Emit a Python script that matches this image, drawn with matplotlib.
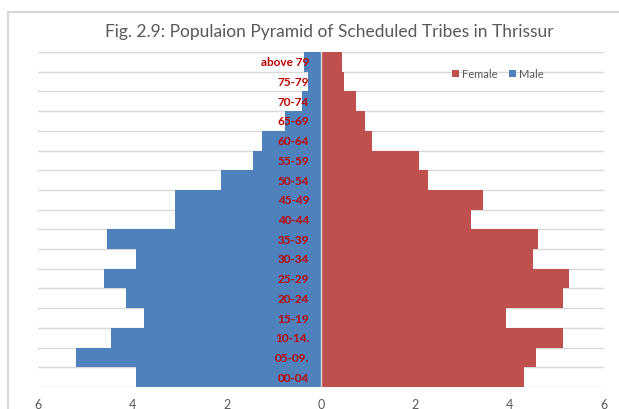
import matplotlib
matplotlib.use("Agg")
import matplotlib.pyplot as plt
from matplotlib.patches import Patch, Rectangle
from matplotlib.transforms import ScaledTranslation
import numpy as np

age_groups = ["00-04", "05-09.", "10-14.", "15-19", "20-24", "25-29", "30-34",
              "35-39", "40-44", "45-49", "50-54", "55-59", "60-64", "65-69",
              "70-74", "75-79", "above 79"]
male = [3.92, 5.20, 4.46, 3.76, 4.13, 4.60, 3.92, 4.54, 3.11, 3.11, 2.13,
        1.45, 1.26, 0.76, 0.41, 0.28, 0.37]
female = [4.30, 4.55, 5.12, 3.93, 5.12, 5.25, 4.50, 4.60, 3.17, 3.43, 2.26,
          2.07, 1.07, 0.93, 0.74, 0.49, 0.44]
xticks = [-6, -4, -2, 0, 2, 4, 6]
xtick_labels = ["6", "4", "2", "0", "2", "4", "6"]
title = "Fig. 2.9: Populaion Pyramid of Scheduled Tribes in Thrissur"

plt.rcParams['font.family'] = ['Lato', 'DejaVu Sans']

W, H = 619, 410
fig = plt.figure(figsize=(W / 100, H / 100), dpi=100)
fig.patch.set_facecolor("white")

# chart frame (cut off at right and bottom)
fig.patches.append(Rectangle((8.3 / W, -0.1), 1.2, 1 - 12.7 / H + 0.1,
                             transform=fig.transFigure, fill=False,
                             edgecolor="#D9D9D9", linewidth=1.6, zorder=0))

left, right = 38.3 / W, 604 / W
bottom, top = 1 - 388 / H, 1 - 53 / H
ax = fig.add_axes([left, bottom, right - left, top - bottom])

y = np.arange(len(age_groups))
blue = "#4F81BD"
red = "#C0504D"
ax.barh(y, [-m for m in male], height=1.0, color=blue, zorder=3, linewidth=0)
ax.barh(y, female, height=1.0, color=red, zorder=3, linewidth=0)

ax.set_xlim(-6, 6)
ax.set_ylim(-0.5, len(age_groups) - 0.5)

# horizontal gridlines at category boundaries
for b in np.arange(-0.5, len(age_groups), 1.0):
    ax.axhline(b, color="#D9D9D9", linewidth=1.0, zorder=1)
ax.axvline(0, color="#D9D9D9", linewidth=1.0, zorder=4)

for s in ax.spines.values():
    s.set_visible(False)

ax.set_yticks([])
ax.set_xticks(xticks)
ax.set_xticklabels(xtick_labels)
ax.tick_params(axis='x', length=0, pad=8, labelsize=9, labelcolor="#595959")

# category labels next to the vertical axis
off = ScaledTranslation(-12 / 100, 0, fig.dpi_scale_trans)
for yi, lab in zip(y, age_groups):
    ax.text(0, yi, lab, transform=ax.transData + off, ha="right", va="center",
            fontsize=8.5, fontweight="bold", color="#C00000", zorder=5)

fig.text(329.5 / W, 1 - 32 / H, title, ha="center", va="center",
         fontsize=12.5, color="#595959")

handles = [Patch(facecolor=red, edgecolor="none", label="Female"),
           Patch(facecolor=blue, edgecolor="none", label="Male")]
leg = fig.legend(handles=handles, loc="center", bbox_to_anchor=(498 / W, 1 - 75 / H),
                 ncol=2, frameon=False, fontsize=8, handlelength=0.6,
                 handleheight=0.6, handletextpad=0.3, columnspacing=1.0,
                 borderpad=0)
for t in leg.get_texts():
    t.set_color("#595959")

fig.savefig("out.png", dpi=100)
